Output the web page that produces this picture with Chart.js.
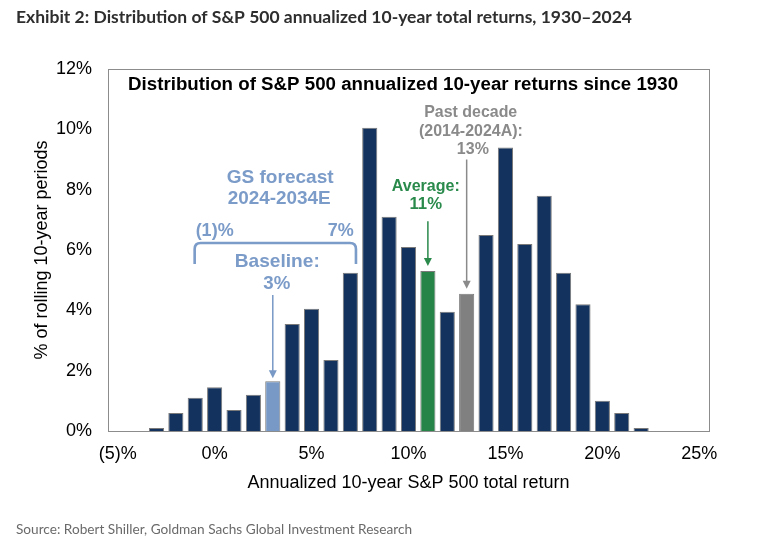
<!DOCTYPE html>
<html><head><meta charset="utf-8">
<script src="https://cdn.jsdelivr.net/npm/chart.js@4.4.1/dist/chart.umd.min.js"></script>
<style>html,body{margin:0;padding:0;background:#fff;}#wrap{width:768px;height:547px;}</style>
</head><body><div id="wrap"><canvas id="c" style="width:768px;height:547px"></canvas></div>
<script>
// ---- data ----
const returnBins = [-5,-4,-3,-2,-1,0,1,2,3,4,5,6,7,8,9,10,11,12,13,14,15,16,17,18,19,20,21,22,23,24,25];
const sharePct   = [null,null,0.1,0.6,1.1,1.45,0.7,1.2,1.65,3.55,4.05,2.35,5.25,10.05,7.1,6.1,5.3,3.95,4.55,6.5,9.4,6.2,7.8,5.25,4.2,1.0,0.6,0.1,null,null,null];
const xTickValues = [-5,0,5,10,15,20,25];
const yTickMin = 0, yTickMax = 12, yTickStep = 2;
const baselineReturn = 3, averageReturn = 11, pastDecadeReturn = 13;
const forecastLow = -1, forecastHigh = 7;

const heading = 'Exhibit 2: Distribution of S&P 500 annualized 10-year total returns, 1930–2024';
const innerTitle = 'Distribution of S&P 500 annualized 10-year returns since 1930';
const sourceText = 'Source: Robert Shiller, Goldman Sachs Global Investment Research';

// ---- styles ----
const NAVY = '#13325d', LBLUE = '#7899c6', GREEN = '#278448', GRAY = '#808080';
const LBLUE_T = '#7b9bc8', GREEN_T = '#2a8a4c', GRAY_T = '#8a8a8a';
const fmtPct = v => v < 0 ? '(' + Math.abs(v) + ')%' : v + '%';

const barColors = returnBins.map(r => r === baselineReturn ? LBLUE : r === averageReturn ? GREEN : r === pastDecadeReturn ? GRAY : NAVY);

function fitText(ctx, text, x, y, font, color, w, align) {
  ctx.save();
  ctx.font = font; ctx.fillStyle = color; ctx.textBaseline = 'alphabetic';
  ctx.textAlign = align || 'center';
  const m = ctx.measureText(text).width;
  const sx = w ? w / m : 1;
  ctx.translate(x, y); ctx.scale(sx, 1); ctx.fillText(text, 0, 0);
  ctx.restore();
}
function arrow(ctx, x, yFrom, yTo, color) {
  ctx.save();
  ctx.strokeStyle = color; ctx.fillStyle = color; ctx.lineWidth = 1.5;
  ctx.beginPath(); ctx.moveTo(x, yFrom); ctx.lineTo(x, yTo - 6); ctx.stroke();
  ctx.beginPath(); ctx.moveTo(x - 4, yTo - 8); ctx.lineTo(x + 4, yTo - 8); ctx.lineTo(x, yTo); ctx.closePath(); ctx.fill();
  ctx.restore();
}

const annot = {
  id: 'annot',
  beforeDraw(chart) {
    const c = chart.ctx; c.save(); c.fillStyle = '#fff'; c.fillRect(0, 0, chart.width, chart.height); c.restore();
  },
  afterDatasetsDraw(chart) {
    const ctx = chart.ctx, xs = chart.scales.x, ys = chart.scales.y, a = chart.chartArea;
    const X = v => xs.getPixelForValue(v - returnBins[0]);
    const Y = v => ys.getPixelForValue(v);
    const val = r => sharePct[returnBins.indexOf(r)];
    // plot frame
    ctx.save(); ctx.strokeStyle = '#8c8c8c'; ctx.lineWidth = 1;
    ctx.strokeRect(Math.round(a.left) + 0.5, Math.round(a.top) + 0.5, Math.round(a.right - a.left), Math.round(a.bottom - a.top));
    ctx.restore();
    // heading & source
    fitText(ctx, heading, 16, 22.5, 'bold 17px Lato', '#2e2e2e', 616, 'left');
    fitText(ctx, sourceText, 16, 533.5, '13px Lato', '#6a6a6a', 396, 'left');
    // inner title
    fitText(ctx, innerTitle, X(9.72), Y(11.3), 'bold 18px "Liberation Sans", Arial', '#000', 550);
    // GS forecast block
    const fB = 'bold 19px "Liberation Sans", Arial';
    fitText(ctx, 'GS forecast', X(3.38), Y(8.22), fB, LBLUE_T, 107);
    fitText(ctx, '2024-2034E', X(3.33), Y(7.54), fB, LBLUE_T, 103);
    fitText(ctx, fmtPct(forecastLow), X(0.0), Y(6.47), fB, LBLUE_T, 38);
    fitText(ctx, fmtPct(forecastHigh), X(6.51), Y(6.47), fB, LBLUE_T, 26);
    // bracket
    const L = X(forecastLow - 0.03), R = X(forecastHigh + 0.29), T = Y(6.23), E = Y(5.54), rr = 6;
    ctx.save(); ctx.strokeStyle = LBLUE_T; ctx.lineWidth = 2.6; ctx.lineJoin = 'round';
    ctx.beginPath(); ctx.moveTo(L, E); ctx.lineTo(L, T + rr); ctx.quadraticCurveTo(L, T, L + rr, T);
    ctx.lineTo(R - rr, T); ctx.quadraticCurveTo(R, T, R, T + rr); ctx.lineTo(R, E); ctx.stroke(); ctx.restore();
    fitText(ctx, 'Baseline:', X(3.23), Y(5.42), fB, LBLUE_T, 85);
    fitText(ctx, fmtPct(baselineReturn), X(3.21), Y(4.71), fB, LBLUE_T, 27);
    arrow(ctx, X(baselineReturn), Y(4.51), Y(val(baselineReturn)) - 3, LBLUE);
    // average
    const fS = 'bold 17px "Liberation Sans", Arial';
    fitText(ctx, 'Average:', X(10.89), Y(7.94), fS, GREEN_T, 68);
    fitText(ctx, fmtPct(averageReturn), X(10.89), Y(7.36), fS, GREEN_T, 32.5);
    arrow(ctx, X(averageReturn), Y(6.95), Y(val(averageReturn)) - 5, GREEN_T);
    // past decade
    fitText(ctx, 'Past decade', X(13.21), Y(10.41), fS, GRAY_T, 93);
    fitText(ctx, '(2014-2024A):', X(13.22), Y(9.79), fS, GRAY_T, 104);
    fitText(ctx, fmtPct(pastDecadeReturn), X(13.32), Y(9.18), fS, GRAY_T, 32);
    arrow(ctx, X(pastDecadeReturn), Y(9.0), Y(val(pastDecadeReturn)) - 5, GRAY_T);
  }
};

new Chart(document.getElementById('c'), {
  type: 'bar',
  data: {
    labels: returnBins,
    datasets: [{
      data: sharePct,
      backgroundColor: barColors,
      borderColor: '#7a7a7a',
      borderWidth: 1,
      borderSkipped: 'bottom',
      barPercentage: 0.78,
      categoryPercentage: 1.0
    }]
  },
  options: {
    responsive: false,
    devicePixelRatio: 1,
    animation: false,
    layout: { padding: { top: 69, left: 0, right: 59, bottom: 50 } },
    plugins: { legend: { display: false }, tooltip: { enabled: false }, title: { display: false } },
    scales: {
      x: {
        grid: { display: false, drawTicks: false },
        border: { display: false },
        ticks: {
          autoSkip: false, maxRotation: 0, padding: 12, color: '#000',
          font: { family: '"Liberation Sans", Arial', size: 18 },
          callback: (v, i) => xTickValues.includes(returnBins[i]) ? fmtPct(returnBins[i]) : ''
        },
        title: { display: true, text: 'Annualized 10-year S&P 500 total return', color: '#000',
                 font: { family: '"Liberation Sans", Arial', size: 18 }, padding: { top: 0, bottom: 3 } },
        afterFit: s => { s.height = 66; }
      },
      y: {
        min: yTickMin, max: yTickMax,
        grid: { display: false, drawTicks: false },
        border: { display: false },
        ticks: { stepSize: yTickStep, padding: 16, color: '#000',
                 font: { family: '"Liberation Sans", Arial', size: 18 }, callback: v => fmtPct(v) },
        title: { display: true, text: '% of rolling 10-year periods', color: '#000',
                 font: { family: '"Liberation Sans", Arial', size: 18 }, padding: { top: 31, bottom: 0 } },
        afterFit: s => { s.width = 108; }
      }
    }
  },
  plugins: [annot]
});
</script></body></html>
